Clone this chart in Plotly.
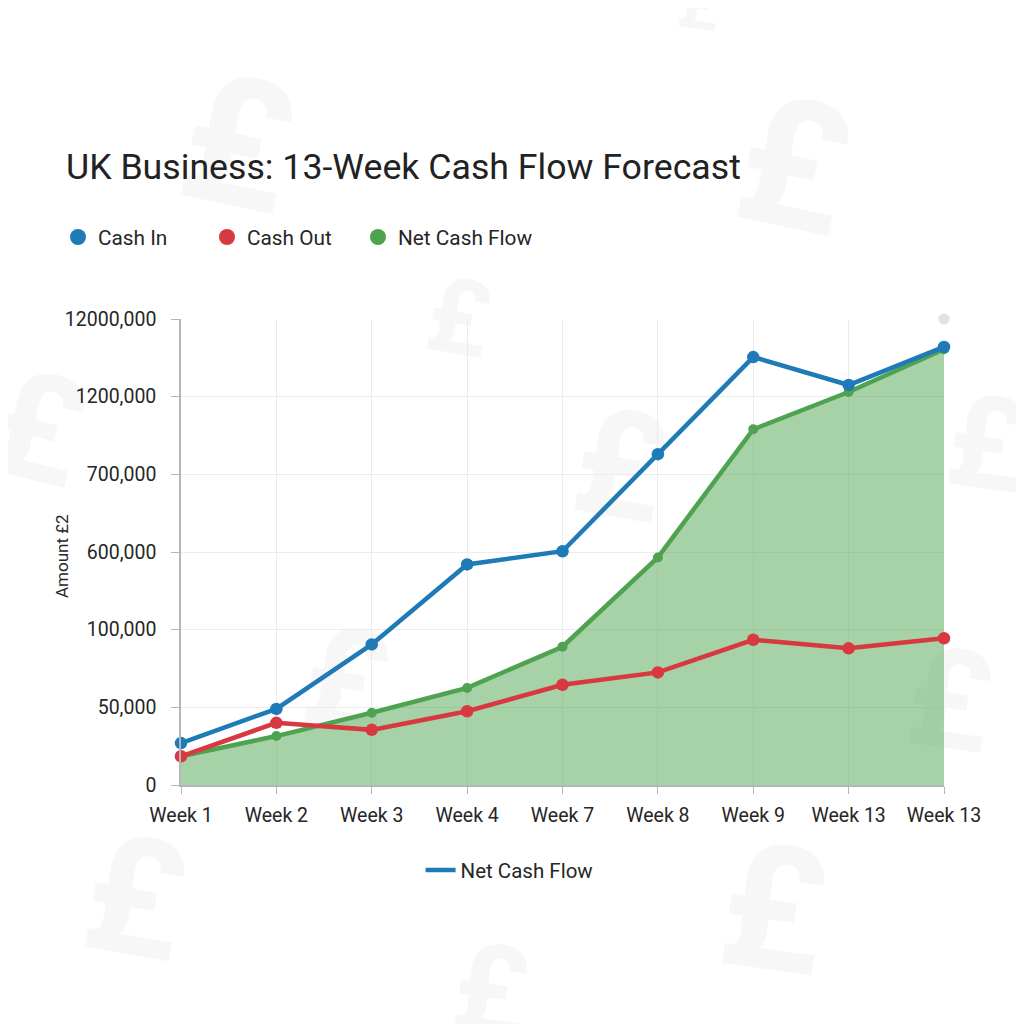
import plotly.graph_objects as go

# tick labels as printed on the chart (the y scale is not linear, values are in tick steps)
weeks = ["Week 1", "Week 2", "Week 3", "Week 4", "Week 7", "Week 8", "Week 9", "Week 13", "Week 13"]
week_index = [0, 1, 2, 3, 4, 5, 6, 7, 8]
y_steps = [0, 1, 2, 3, 4, 5, 6]
y_labels = ["0", "50,000", "100,000", "600,000", "700,000", "1200,000", "12000,000"]

cash_in = [0.54, 0.98, 1.81, 2.84, 3.01, 4.26, 5.51, 5.15, 5.64]
cash_out = [0.37, 0.80, 0.71, 0.95, 1.29, 1.45, 1.87, 1.76, 1.89]
net_flow = [0.37, 0.63, 0.93, 1.25, 1.78, 2.93, 4.58, 5.06, 5.61]

ghost_x = [8]
ghost_y = [6]

BLUE = "#1f7ab8"
RED = "#d8383f"
GREEN = "#4fa350"
FONT = "Roboto"
TEXT = "#262626"

# the page puts the figure 8px in from the window corner
PLOT_LEFT = 181
PLOT_RIGHT = 944
PLOT_TOP = 319
PLOT_BOTTOM = 785
PLOT_W = PLOT_RIGHT - PLOT_LEFT
PLOT_H = PLOT_BOTTOM - PLOT_TOP

# background pound signs: centre x, centre y (pixels), size, angle
watermarks = [
    (240, 131, 180, 12), (796, 153, 180, 12), (460, 310, 105, 10), (40, 418, 150, 14),
    (622, 455, 150, 10), (348, 670, 140, 10), (988, 435, 130, 8), (951, 690, 140, 8),
    (137, 886, 165, 10), (775, 897, 175, 8), (492, 982, 125, 8), (700, 0, 70, 8),
]

fig = go.Figure()

fig.add_trace(go.Scatter(x=ghost_x, y=ghost_y, mode="markers", cliponaxis=False,
                         marker=dict(color="#e2e2e2", size=11), showlegend=False))
fig.add_trace(go.Scatter(x=week_index, y=net_flow, mode="lines+markers", cliponaxis=False,
                         fill="tozeroy", fillcolor="rgba(79,163,80,0.5)",
                         line=dict(color=GREEN, width=4.5), marker=dict(color=GREEN, size=10),
                         showlegend=False))
fig.add_trace(go.Scatter(x=week_index, y=cash_out, mode="lines+markers", cliponaxis=False,
                         line=dict(color=RED, width=4.5), marker=dict(color=RED, size=12.5),
                         showlegend=False))
fig.add_trace(go.Scatter(x=week_index, y=cash_in, mode="lines+markers", cliponaxis=False,
                         line=dict(color=BLUE, width=4.5), marker=dict(color=BLUE, size=12.5),
                         showlegend=False))

# legend entries only, one legend each so the spacing can follow the original
for name, colour, legend_id in [("Cash In", BLUE, "legend"), ("Cash Out", RED, "legend3"),
                                ("Net Cash Flow", GREEN, "legend4")]:
    fig.add_trace(go.Scatter(x=[None], y=[None], mode="markers", name=name, legend=legend_id,
                             marker=dict(color=colour, size=17)))
fig.add_trace(go.Scatter(x=[None], y=[None], mode="lines", name="Net Cash Flow",
                         line=dict(color=BLUE, width=4.5), legend="legend2"))

for cx, cy, size, angle in watermarks:
    fig.add_shape(type="rect", xref="paper", yref="paper", layer="below",
                  x0=(cx - PLOT_LEFT - 50) / PLOT_W, x1=(cx - PLOT_LEFT + 50) / PLOT_W,
                  y0=(PLOT_BOTTOM - cy - 50) / PLOT_H, y1=(PLOT_BOTTOM - cy + 50) / PLOT_H,
                  line=dict(width=0), fillcolor="rgba(0,0,0,0)",
                  label=dict(text="<b>£</b>", textposition="middle center", textangle=angle,
                             font=dict(family=FONT, size=size, color="#f7f7f7")))

fig.add_annotation(text="Amount £2", textangle=-90, xref="paper", yref="paper", showarrow=False,
                   x=(62 - PLOT_LEFT) / PLOT_W, y=(PLOT_BOTTOM - 556) / PLOT_H,
                   xanchor="center", yanchor="middle", font=dict(size=17))


def top_legend(marker_x):
    return dict(orientation="h", x=(marker_x - 20 - PLOT_LEFT) / PLOT_W, xanchor="left",
                y=1.175, yanchor="middle", font=dict(size=20.8),
                bgcolor="rgba(0,0,0,0)", itemsizing="trace")


fig.update_layout(
    width=1024, height=1024,
    margin=dict(l=PLOT_LEFT - 8, r=1032 - PLOT_RIGHT, t=PLOT_TOP - 8, b=1032 - PLOT_BOTTOM),
    paper_bgcolor="white", plot_bgcolor="rgba(0,0,0,0)",
    font=dict(family=FONT, color=TEXT, size=18),
    title=dict(text="UK Business: 13-Week Cash Flow Forecast", x=58 / 1024, xanchor="left",
               y=1 - 159 / 1024, yanchor="middle",
               font=dict(family=FONT, size=35.7, color="#222222")),
    legend=top_legend(78),
    legend3=top_legend(227),
    legend4=top_legend(378),
    legend2=dict(orientation="h", x=0.314, xanchor="left", y=-0.183, yanchor="middle",
                 font=dict(size=20.5), bgcolor="rgba(0,0,0,0)"),
    xaxis=dict(range=[0, 8], tickmode="array", tickvals=week_index, ticktext=weeks,
               showline=True, linecolor="#b5b5b5", linewidth=1.5, ticks="outside", ticklen=7,
               tickcolor="#b5b5b5", gridcolor="#ececec", gridwidth=1.3, zeroline=False,
               ticklabelstandoff=5, tickfont=dict(size=19.5)),
    yaxis=dict(range=[0, 6], tickmode="array", tickvals=y_steps, ticktext=y_labels,
               showline=True, linecolor="#b5b5b5", linewidth=1.5, ticks="outside", ticklen=8,
               tickcolor="#b5b5b5", gridcolor="#ececec", gridwidth=1.3, zeroline=False,
               ticklabelstandoff=11, tickfont=dict(size=19.5)),
)

fig.write_html("out.html")
